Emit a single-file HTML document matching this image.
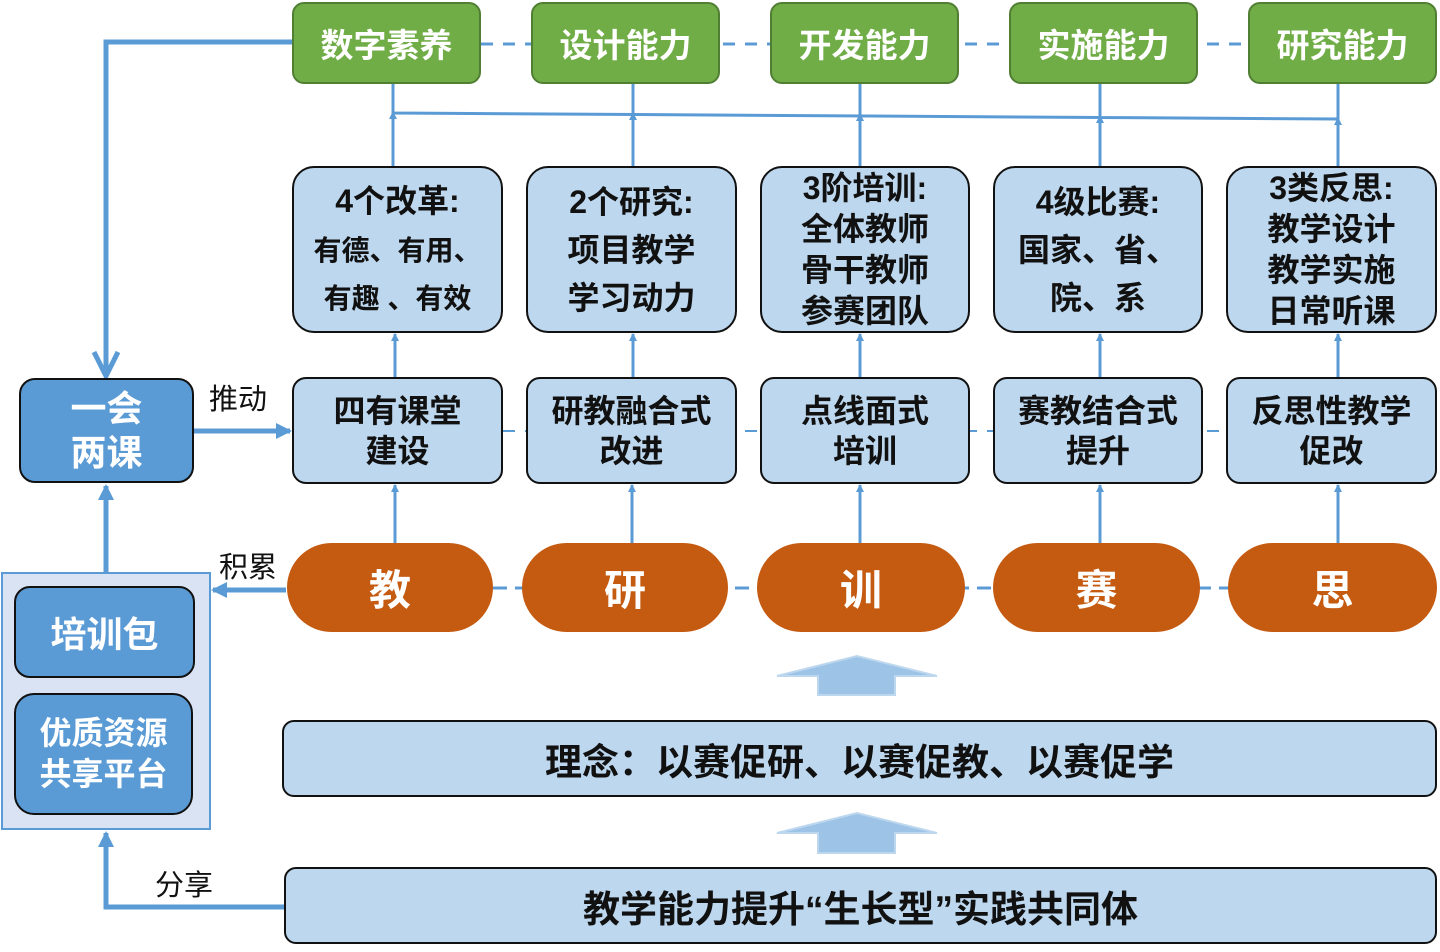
<!DOCTYPE html>
<html><head><meta charset="utf-8"><style>
body{margin:0;width:1440px;height:952px;background:#fff;position:relative;overflow:hidden;font-family:"Liberation Sans","Noto Sans CJK SC",sans-serif;font-weight:bold}
.b{position:absolute;box-sizing:border-box;display:flex;align-items:center;justify-content:center;text-align:center;white-space:nowrap}
.g{background:#70ad47;border:2px solid #507e32;border-radius:12px;color:#fff;font-size:33px;top:2px;height:82px;width:189px}
.m{background:#bdd7ee;border:2px solid #111;border-radius:22px;color:#111;font-size:32px;line-height:41px;top:166px;height:167px}
.r{background:#bdd7ee;border:2px solid #111;border-radius:14px;color:#111;font-size:32px;line-height:40px;top:377px;height:107px}
.o{background:#c55a11;border-radius:46px;color:#fff;font-size:42px;top:543px;height:89px}
.lbl{position:absolute;font-weight:normal;font-size:29px;color:#111}
</style></head><body>
<svg width="1440" height="952" style="position:absolute;left:0;top:0">
<defs><marker id="a" markerWidth="8" markerHeight="8" refX="7" refY="4" orient="auto" markerUnits="userSpaceOnUse"><path d="M0,0L8,4L0,8z" fill="#5b9bd5"/></marker>
<marker id="A" markerWidth="16" markerHeight="16" refX="14" refY="8" orient="auto" markerUnits="userSpaceOnUse"><path d="M0,0L16,8L0,16z" fill="#5b9bd5"/></marker></defs>
<g stroke="#5b9bd5" fill="none">
<line x1="481" y1="44" x2="1248" y2="44" stroke-width="3" stroke-dasharray="12,10"/>
<line x1="503" y1="431" x2="1226" y2="431" stroke-width="2" stroke-dasharray="12,10"/>
<line x1="493" y1="588" x2="1228" y2="588" stroke-width="3" stroke-dasharray="14,8"/>
<path d="M393,84V113L1338,119M633,84V114M860,84V115M1100,84V117M1338,84V119" stroke-width="3"/>
<g stroke-width="3" marker-end="url(#a)">
<line x1="393" y1="166" x2="393" y2="112"/><line x1="633" y1="166" x2="633" y2="113"/><line x1="860" y1="166" x2="860" y2="114"/><line x1="1100" y1="166" x2="1100" y2="116"/><line x1="1338" y1="166" x2="1338" y2="118"/>
<line x1="395" y1="377" x2="395" y2="334"/><line x1="633" y1="377" x2="633" y2="334"/><line x1="860" y1="377" x2="860" y2="334"/><line x1="1100" y1="377" x2="1100" y2="334"/><line x1="1338" y1="377" x2="1338" y2="334"/>
<line x1="395" y1="543" x2="395" y2="485"/><line x1="632" y1="543" x2="632" y2="485"/><line x1="860" y1="543" x2="860" y2="485"/><line x1="1100" y1="543" x2="1100" y2="485"/><line x1="1338" y1="543" x2="1338" y2="485"/>
</g>
<path d="M292,42H106V374" stroke-width="5"/>
<path d="M94,352L106,376L118,352" stroke-width="5"/>
<line x1="194" y1="431" x2="290" y2="431" stroke-width="5" marker-end="url(#A)"/>
<line x1="286" y1="590" x2="213" y2="590" stroke-width="5" marker-end="url(#A)"/>
<line x1="106" y1="572" x2="106" y2="486" stroke-width="5" marker-end="url(#A)"/>
<path d="M284,907H106V833" stroke-width="5" marker-end="url(#A)"/>
</g>
<path d="M777,676L857,656L937,676H895V695H818V676Z" fill="#9dc3e6" stroke="#bdd7ee" stroke-width="2"/>
<path d="M777,833L857,813L937,833H895V853H818V833Z" fill="#9dc3e6" stroke="#bdd7ee" stroke-width="2"/>
</svg>
<div class="b g" style="left:292px">数字素养</div>
<div class="b g" style="left:531px">设计能力</div>
<div class="b g" style="left:770px">开发能力</div>
<div class="b g" style="left:1009px">实施能力</div>
<div class="b g" style="left:1248px">研究能力</div>
<div class="b m" style="left:292px;width:211px;font-size:28px;line-height:48px"><div><span style="font-size:32px">4个改革:</span><br>有德、有用、<br>有趣 、有效</div></div>
<div class="b m" style="left:526px;width:211px;line-height:48px"><div>2个研究:<br>项目教学<br>学习动力</div></div>
<div class="b m" style="left:760px;width:210px"><div>3阶培训:<br>全体教师<br>骨干教师<br>参赛团队</div></div>
<div class="b m" style="left:993px;width:210px;line-height:48px"><div>4级比赛:<br>国家、省、<br>院、系</div></div>
<div class="b m" style="left:1226px;width:211px"><div>3类反思:<br>教学设计<br>教学实施<br>日常听课</div></div>
<div class="b r" style="left:292px;width:211px">四有课堂<br>建设</div>
<div class="b r" style="left:526px;width:211px">研教融合式<br>改进</div>
<div class="b r" style="left:760px;width:210px">点线面式<br>培训</div>
<div class="b r" style="left:993px;width:210px">赛教结合式<br>提升</div>
<div class="b r" style="left:1226px;width:211px">反思性教学<br>促改</div>
<div class="b o" style="left:287px;width:206px">教</div>
<div class="b o" style="left:522px;width:206px">研</div>
<div class="b o" style="left:757px;width:208px">训</div>
<div class="b o" style="left:993px;width:207px">赛</div>
<div class="b o" style="left:1228px;width:209px">思</div>
<div class="b" style="left:19px;top:378px;width:175px;height:105px;background:#5b9bd5;border:2px solid #111;border-radius:16px;color:#fff;font-size:36px;line-height:44px">一会<br>两课</div>
<div class="b" style="left:1px;top:572px;width:210px;height:258px;background:#dae3f3;border:2px solid #5b9bd5"></div>
<div class="b" style="left:14px;top:586px;width:181px;height:92px;background:#5b9bd5;border:2px solid #111;border-radius:16px;color:#fff;font-size:36px">培训包</div>
<div class="b" style="left:14px;top:693px;width:179px;height:122px;background:#5b9bd5;border:2px solid #111;border-radius:20px;color:#fff;font-size:32px;line-height:41px">优质资源<br>共享平台</div>
<div class="b" style="left:282px;top:720px;width:1155px;height:77px;background:#bdd7ee;border:2px solid #111;border-radius:12px;font-size:37px;color:#111">理念：以赛促研、以赛促教、以赛促学</div>
<div class="b" style="left:284px;top:867px;width:1153px;height:77px;background:#bdd7ee;border:2px solid #111;border-radius:12px;font-size:37px;color:#111">教学能力提升“生长型”实践共同体</div>
<div class="lbl" style="left:209px;top:376px">推动</div>
<div class="lbl" style="left:219px;top:544px">积累</div>
<div class="lbl" style="left:155px;top:862px">分享</div>
</body></html>
